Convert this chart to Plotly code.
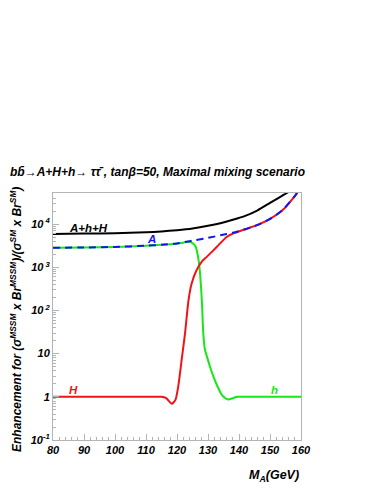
import plotly.graph_objects as go

# M_A (GeV) and enhancement factors
m_a = [80, 90, 100, 110, 115, 120, 123, 126, 130, 134, 138, 142, 146, 150, 154, 158, 160]
enh_a = [2820, 2880, 2950, 3160, 3310, 3550, 3890, 4270, 4790, 5500, 6310, 7590, 9550, 13200, 20900, 44700, 70800]

m_sum = [80, 90, 100, 110, 115, 120, 125, 130, 134, 138, 142, 146, 150, 154, 156, 158]
enh_sum = [5890, 6030, 6170, 6460, 6760, 7240, 7940, 9120, 10500, 12600, 15500, 20900, 30900, 45700, 56000, 89000]

m_h = [80, 90, 100, 110, 115, 120, 122, 123.7, 125, 126, 127, 127.5, 128, 128.5, 129, 130,
       131, 132, 133, 134, 135, 136.5, 138, 139.5, 145, 160]
enh_h = [2820, 2880, 2950, 3160, 3310, 3550, 3720, 3890, 3630, 3020, 1410, 631, 178, 28, 12.6, 7.08,
         4.17, 2.63, 1.78, 1.26, 1.0, 0.87, 0.93, 1.0, 1.0, 1.0]

m_hh = [80, 100, 110, 115, 116.5, 118.3, 119.5, 120.4, 121.5, 122.6, 123.7, 124.7, 126.3, 128,
        129.6, 132.8, 136, 138, 142, 146, 150, 154, 158, 160]
enh_hh = [1, 1, 1, 1, 0.93, 0.69, 0.85, 1.74, 7.2, 30, 170, 417, 851, 1350,
          1740, 2950, 5010, 6030, 7590, 9550, 13200, 20900, 44700, 70800]

x_ticks = [80, 90, 100, 110, 120, 130, 140, 150, 160]
y_ticks = [0.1, 1, 10, 100, 1000, 10000]
y_ticktext = ["10<sup>-1</sup>", "1", "10", "10<sup> 2</sup>", "10<sup> 3</sup>", "10<sup> 4</sup>"]

FONT = "Liberation Sans, Arial, sans-serif"
AX = "#b4b4b4"
BI = dict(family=FONT, weight="bold", style="italic")

fig = go.Figure()
fig.add_trace(go.Scatter(x=m_h, y=enh_h, mode="lines",
                         line=dict(color="#19e619", width=2, shape="spline", smoothing=0.6)))
fig.add_trace(go.Scatter(x=m_hh, y=enh_hh, mode="lines",
                         line=dict(color="#f01414", width=2, shape="spline", smoothing=0.6)))
fig.add_trace(go.Scatter(x=m_sum, y=enh_sum, mode="lines",
                         line=dict(color="black", width=2, shape="spline", smoothing=0.6)))
fig.add_trace(go.Scatter(x=m_a, y=enh_a, mode="lines",
                         line=dict(color="#1414f0", width=2, dash="7px,5px", shape="spline", smoothing=0.6)))

minor_y = [k * 10 ** e for e in range(-1, 5) for k in range(2, 10)]

# the page body has an 8px margin, so the plot box is shifted up/left by that much
fig.update_layout(
    width=382, height=494,
    margin=dict(l=45, r=89, t=185, b=62),
    paper_bgcolor="white", plot_bgcolor="white",
    showlegend=False,
    font=dict(family=FONT, color="black"),
    xaxis=dict(range=[80, 160], tickvals=x_ticks, ticks="inside", ticklen=6, tickcolor=AX,
               showline=True, linecolor=AX, linewidth=1, mirror=True, showgrid=False, zeroline=False,
               tickfont=dict(size=11, **BI),
               minor=dict(dtick=2, ticks="inside", ticklen=3, tickcolor=AX)),
    yaxis=dict(type="log", range=[-1, 4.72], tickvals=y_ticks, ticktext=y_ticktext,
               ticks="inside", ticklen=6, tickcolor=AX,
               showline=True, linecolor=AX, linewidth=1, mirror=True, showgrid=False, zeroline=False,
               tickfont=dict(size=11, **BI),
               minor=dict(tickvals=minor_y, ticks="inside", ticklen=3, tickcolor=AX)),
)

fig.add_annotation(xref="paper", yref="paper", x=-0.18, y=1.085, xanchor="left", yanchor="middle",
                   showarrow=False, font=dict(size=12, **BI),
                   text="bb\u0304\u2192A+H+h\u2192 \u03c4\u03c4\u0304 , tan\u03b2=50, Maximal mixing scenario")
fig.add_annotation(xref="paper", yref="paper", x=-0.149, y=0.486, xanchor="center", yanchor="middle",
                   textangle=-90, showarrow=False, font=dict(size=12, **BI),
                   text="Enhancement for (\u03c3<sup>MSSM</sup> x Br<sup>MSSM</sup>)/(\u03c3<sup>SM</sup> x Br<sup>SM</sup>)")
fig.add_annotation(xref="paper", yref="paper", x=1.0, y=-0.145, xanchor="right", yanchor="middle",
                   showarrow=False, font=dict(size=12.5, **BI),
                   text="M<sub>A</sub>(GeV)")

fig.add_annotation(x=91.6, y=3.91, showarrow=False, text="A+h+H",
                   font=dict(size=11.5, color="black", **BI))
fig.add_annotation(x=111.9, y=3.65, showarrow=False, text="A",
                   font=dict(size=11.5, color="#1414f0", **BI))
fig.add_annotation(x=86.5, y=0.16, showarrow=False, text="H",
                   font=dict(size=11.5, color="#f01414", **BI))
fig.add_annotation(x=151.3, y=0.16, showarrow=False, text="h",
                   font=dict(size=11.5, color="#19e619", **BI))

fig.write_html("out.html")
